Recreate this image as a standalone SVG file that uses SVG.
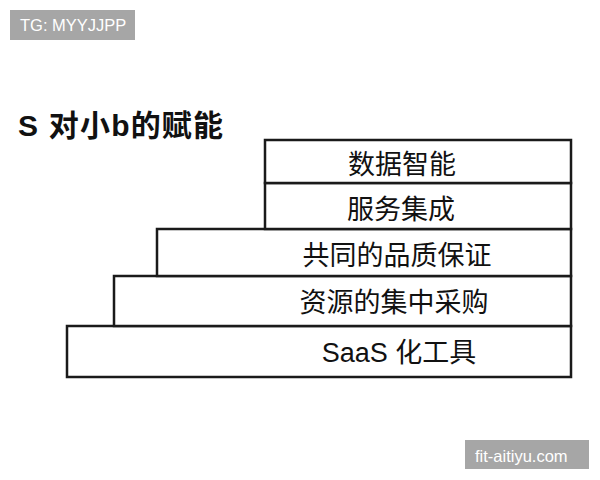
<svg xmlns="http://www.w3.org/2000/svg" width="600" height="480" viewBox="0 0 600 480">
<style>
.box{fill:#fff;stroke:#1a1a1a;stroke-width:2.5}
.lbl{font-family:"Liberation Sans","Noto Sans CJK SC",sans-serif;font-size:27px;fill:#111;text-anchor:middle}
.wm{fill:#a6a6a6}
.wmt{font-family:"Liberation Sans","Noto Sans CJK SC",sans-serif;font-size:16.5px;fill:#fff}
</style>
<rect width="600" height="480" fill="#fff"/>
<g id="wm-top"><rect class="wm" x="10" y="10" width="125" height="30"/><text class="wmt" x="20" y="31">TG: MYYJJPP</text></g>
<g id="title"><text x="18" y="136" font-family="Liberation Sans,Noto Sans CJK SC,sans-serif" font-size="30" font-weight="bold" letter-spacing="1.2" fill="#111">S 对小b的赋能</text></g>
<g id="saas"><rect class="box" x="67" y="326" width="504" height="51"/><text class="lbl" x="399" y="362">SaaS 化工具</text></g>
<g id="resource"><rect class="box" x="114" y="276" width="457" height="50"/><text class="lbl" x="394" y="312">资源的集中采购</text></g>
<g id="quality"><rect class="box" x="157" y="229" width="414" height="47"/><text class="lbl" x="397" y="265">共同的品质保证</text></g>
<g id="service"><rect class="box" x="265" y="183" width="306" height="46"/><text class="lbl" x="401" y="219">服务集成</text></g>
<g id="data"><rect class="box" x="265" y="140" width="306" height="43"/><text class="lbl" x="402" y="174">数据智能</text></g>
<g id="connectors"></g>
<g id="wm-bottom"><rect class="wm" x="465" y="440" width="124" height="29"/><text class="wmt" x="475" y="462" font-size="18.5">fit-aitiyu.com</text></g>
</svg>
